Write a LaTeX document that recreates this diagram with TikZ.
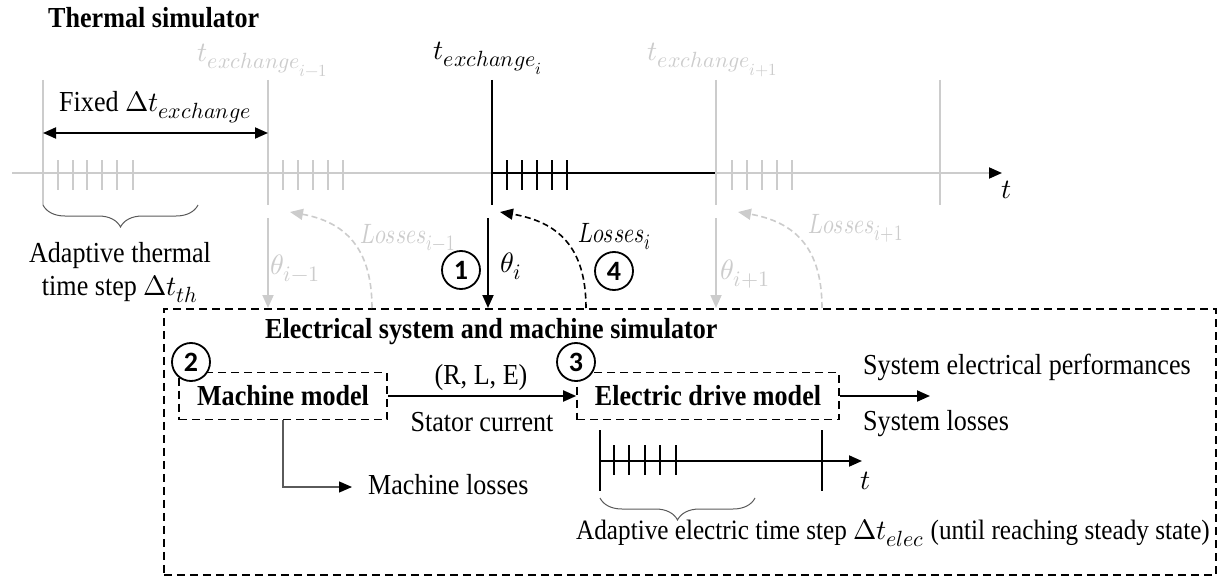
\documentclass[tikz,border=0pt]{standalone}
\usepackage{fontspec}
\usepackage{unicode-math}
\setmainfont[FakeStretch=0.9]{Liberation Serif}
\newfontfamily\numfont{Carlito}
\DeclareMathSizes{29}{28}{22}{17}
\DeclareMathSizes{28}{28}{22}{17}
\usetikzlibrary{arrows.meta,decorations.pathreplacing}
\definecolor{lg}{RGB}{204,204,204}
\definecolor{dg}{RGB}{90,90,90}
\newcommand\narrowmath[1]{\scalebox{0.78}[1]{$#1$}}
\begin{document}
\begin{tikzpicture}[x=1pt,y=-1pt,
  every node/.style={font=\fontsize{29}{33}\selectfont, inner sep=0pt},
  ln/.style={line width=1.8pt},
  tk/.style={line width=1.8pt},
  tip/.style={-{Triangle[length=13pt,width=11pt,color=black,fill=black]}},
  dtip/.style={{Triangle[length=13pt,width=11pt]}-{Triangle[length=13pt,width=11pt]}},
  dbox/.style={draw, dash pattern=on 8pt off 5pt, line width=1.6pt},
  curve/.style={dash pattern=on 6pt off 3.5pt, line width=1.6pt},
  bold/.style={font=\fontsize{29}{33}\selectfont\bfseries},
  circ/.style={draw, circle, line width=1.8pt, minimum size=38pt, fill=white,
    font=\fontsize{28}{30}\selectfont\numfont\bfseries},
  brc/.style={decorate, decoration={brace, mirror, amplitude=22pt}, line width=1pt, draw=dg},
]
\useasboundingbox (0,0) rectangle (1219,578);

% ---------- Thermal simulator ----------
\node[bold, anchor=west] (thtitle) at (48,18) {Thermal simulator};

% main time axis
\coordinate (ax0) at (12,173);
\coordinate (ax1) at (1002,173);
\draw[ln, draw=lg, tip] (ax0) -- (ax1);
\draw[ln] (492,173) -- (716,173);
\node (taxis) at (1007,190) {$t$};

% exchange instants
\foreach \x in {43,268,716,940} \draw[tk, lg] (\x,80) -- (\x,205);
\draw[tk] (492,80) -- (492,205);

% thermal steps
\foreach \x in {58,73,87,102,117,133, 283,298,313,328,343, 732,747,762,777,792}
  \draw[tk, lg] (\x,160) -- (\x,190);
\foreach \x in {507,522,537,552,567}
  \draw[tk] (\x,160) -- (\x,190);

% exchange labels
\node[text=lg] (tem) at (263,60) {$t_{{exchange}_{i-1}}$};
\node (tei) at (488,58) {$t_{{exchange}_{i}}$};
\node[text=lg] (tep) at (713,60) {$t_{{exchange}_{i+1}}$};

% fixed exchange step
\coordinate (fx0) at (43,133);
\coordinate (fx1) at (268,133);
\draw[ln, dtip] (fx0) -- (fx1);
\node (fixed) at (155,107) {Fixed $\Delta t_{exchange}$};

% adaptive thermal step
\coordinate (b0) at (43,205);
\coordinate (b1) at (198,205);
\draw[brc] (b0) -- (b1);
\node (adth1) at (120,256) {Adaptive thermal};
\node (adth2) at (120,289) {time step $\Delta t_{th}$};

% ---------- Electrical system and machine simulator ----------
\node[dbox, anchor=north west, minimum width=1052pt, minimum height=266pt] (sim) at (163,308) {};
\node[bold, anchor=west] (simtitle) at (265,332) {Electrical system and machine simulator};

% theta arrows
\coordinate (tha) at (268,218);
\coordinate (thb) at (488,218);
\coordinate (thc) at (716,218);
\draw[ln, lg, -{Triangle[length=13pt,width=11pt]}] (tha) -- (tha |- sim.north);
\draw[ln, tip] (thb) -- (thb |- sim.north);
\draw[ln, lg, -{Triangle[length=13pt,width=11pt]}] (thc) -- (thc |- sim.north);
\node[text=lg] (thla) at (295,268) {$\theta_{i-1}$};
\node (thlb) at (511,266) {$\theta_{i}$};
\node[text=lg] (thlc) at (745,274) {$\theta_{i+1}$};

% losses arrows
\coordinate (lsa) at (372,308);
\coordinate (lea) at (290,212);
\coordinate (lsb) at (586,308);
\coordinate (leb) at (500,212);
\coordinate (lsc) at (822,308);
\coordinate (lec) at (738,212);
\draw[curve, lg, -{Triangle[length=13pt,width=11pt]}] (lsa) .. controls (372,248) and (345,222) .. (lea);
\draw[curve, -{Triangle[length=13pt,width=11pt]}] (lsb) .. controls (586,248) and (559,222) .. (leb);
\draw[curve, lg, -{Triangle[length=13pt,width=11pt]}] (lsc) .. controls (822,248) and (795,222) .. (lec);
\node[text=lg, anchor=west] (lla) at (360,238) {\narrowmath{Losses_{i-1}}};
\node[anchor=west] (llb) at (578,237) {\narrowmath{Losses_{i}}};
\node[text=lg, anchor=west] (llc) at (808,228) {\narrowmath{Losses_{i+1}}};

% step numbers 1 and 4
\node[circ] (n1) at (461,270) {1};
\node[circ] (n4) at (614,271) {4};

% machine model and electric drive model
\node[dbox, bold, minimum width=208pt, minimum height=47pt] (mm) at (283,396) {Machine model};
\node[dbox, bold, minimum width=262pt, minimum height=47pt] (ed) at (708,396) {Electric drive model};
\node[circ] (n2) at (191,362) {2};
\node[circ] (n3) at (576,362) {3};

\draw[ln, tip] (mm) -- (ed);
\node (rle) at (481,378) {(R, L, E)};
\node (stat) at (482,422) {Stator current};

\coordinate (edout) at (930,396);
\draw[ln, tip] (ed) -- (edout);
\node[anchor=west] (sep) at (863,367) {System electrical performances};
\node[anchor=west] (sl) at (863,424) {System losses};

\coordinate (mlc) at (283,487);
\coordinate (mle) at (352,487);
\draw[line width=1.3pt, draw=dg, tip] (mm) -- (mlc) -- (mle);
\node[anchor=west] (ml) at (368,485) {Machine losses};

% electric time axis
\coordinate (ea0) at (600,461);
\coordinate (ea1) at (862,461);
\draw[ln, tip] (ea0) -- (ea1);
\draw[tk] (600,430) -- (600,491);
\draw[tk] (822,430) -- (822,491);
\foreach \x in {614,629,645,660,676} \draw[tk] (\x,445) -- (\x,475);
\node (tel) at (866,481) {$t$};

\coordinate (eb0) at (600,498);
\coordinate (eb1) at (755,498);
\draw[brc] (eb0) -- (eb1);
\node[font=\fontsize{28}{33}\selectfont] (adel) at (893,533) {Adaptive electric time step $\Delta t_{elec}$ (until reaching steady state)};
\end{tikzpicture}
\end{document}
